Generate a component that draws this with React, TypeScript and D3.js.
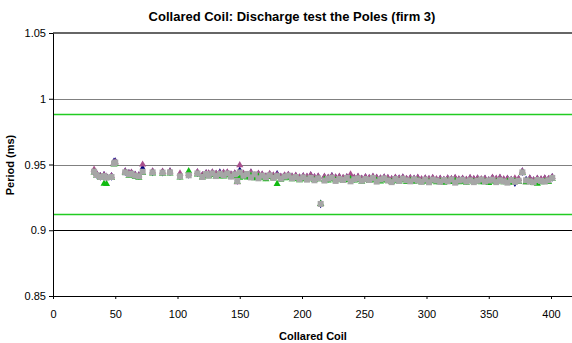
import React, { useEffect, useRef } from 'react';
import * as d3 from 'd3';

// coil numbers (x) and the period of each pole (ms)
const coils = [
  33, 35, 38, 41, 43, 47, 49, 50, 58, 61, 63, 66, 69, 72,
  80, 88, 94, 102, 109, 116, 120, 123, 125, 128, 131, 134, 137, 140, 143, 146, 148, 150, 153, 156, 159, 162, 165, 168, 171, 174, 177, 180, 183, 186, 189, 192, 195, 198,
  201, 204, 207, 210, 213, 215, 218, 221, 224, 227, 230, 233, 236, 239, 242, 245, 248, 251, 254, 257, 260, 263, 266, 269, 272, 275, 278, 281, 284, 287, 290, 293, 296, 299,
  302, 305, 308, 311, 314, 317, 320, 323, 326, 329, 332, 335, 338, 341, 344, 347, 350, 353, 356, 359, 362, 365, 368, 371, 374, 377, 380, 383, 386, 389, 392, 395, 398, 401,
];

const pole1 = [
  0.9448, 0.9425, 0.941, 0.9418, 0.9405, 0.941, 0.952, 0.9522, 0.9445, 0.9432, 0.9435, 0.942, 0.9415, 0.9468,
  0.9444, 0.9442, 0.9445, 0.9415, 0.9424, 0.9438, 0.9415, 0.943, 0.9428, 0.9436, 0.9425, 0.9438, 0.9432, 0.9435, 0.942, 0.9428, 0.938, 0.9452, 0.9426, 0.9418, 0.9436, 0.9412, 0.9425, 0.942, 0.9405, 0.9422, 0.9412, 0.9425, 0.9402, 0.9412, 0.9418, 0.9405, 0.941, 0.9398,
  0.9408, 0.9402, 0.9415, 0.94, 0.9405, 0.92, 0.9402, 0.9395, 0.941, 0.9398, 0.9402, 0.9392, 0.94, 0.9408, 0.9395, 0.9402, 0.9388, 0.94, 0.9392, 0.9402, 0.9395, 0.939, 0.9398, 0.9392, 0.9385, 0.9395, 0.939, 0.9398, 0.9385, 0.9392, 0.9388, 0.9395, 0.9382, 0.939,
  0.9385, 0.9392, 0.9382, 0.9388, 0.938, 0.939, 0.9385, 0.9392, 0.9382, 0.9388, 0.938, 0.9392, 0.9385, 0.939, 0.9382, 0.9388, 0.9378, 0.9395, 0.9385, 0.9395, 0.9382, 0.9388, 0.938, 0.9362, 0.9385, 0.9445, 0.9382, 0.939, 0.9378, 0.9388, 0.9382, 0.939, 0.9385, 0.9402,
];

const pole2 = [
  0.9462, 0.943, 0.9412, 0.942, 0.9408, 0.9412, 0.9512, 0.9518, 0.9448, 0.9435, 0.9438, 0.9422, 0.9418, 0.95,
  0.9448, 0.9445, 0.9448, 0.9432, 0.943, 0.9442, 0.942, 0.9435, 0.9432, 0.944, 0.943, 0.9435, 0.9438, 0.944, 0.9425, 0.9432, 0.9365, 0.9495, 0.943, 0.9422, 0.944, 0.9418, 0.943, 0.9425, 0.941, 0.9428, 0.9418, 0.9422, 0.9408, 0.9418, 0.9422, 0.941, 0.9415, 0.9402,
  0.9412, 0.9408, 0.942, 0.9405, 0.941, 0.92, 0.9408, 0.94, 0.9412, 0.9402, 0.9408, 0.9398, 0.9405, 0.9425, 0.94, 0.9408, 0.9392, 0.9405, 0.9398, 0.9408, 0.94, 0.9395, 0.9402, 0.9398, 0.939, 0.94, 0.9395, 0.9402, 0.939, 0.9398, 0.9392, 0.94, 0.9388, 0.9395,
  0.939, 0.9398, 0.9388, 0.9392, 0.9385, 0.9395, 0.939, 0.9398, 0.9388, 0.9392, 0.9385, 0.9398, 0.939, 0.9395, 0.9388, 0.9392, 0.9382, 0.94, 0.9392, 0.94, 0.9388, 0.9392, 0.9385, 0.9395, 0.939, 0.9448, 0.9365, 0.9395, 0.9382, 0.9392, 0.9388, 0.9395, 0.939, 0.9405,
];

const pole3 = [
  0.944, 0.9415, 0.94, 0.9355, 0.9352, 0.9398, 0.95, 0.9505, 0.9435, 0.9415, 0.942, 0.9405, 0.94, 0.9435,
  0.9432, 0.943, 0.9432, 0.9402, 0.945, 0.9425, 0.9402, 0.9415, 0.9412, 0.942, 0.9408, 0.9412, 0.941, 0.9418, 0.9405, 0.9412, 0.937, 0.94, 0.941, 0.9402, 0.9415, 0.9395, 0.9408, 0.94, 0.9388, 0.9405, 0.9395, 0.9352, 0.9385, 0.9395, 0.94, 0.9388, 0.9392, 0.938,
  0.939, 0.9385, 0.9395, 0.9382, 0.9388, 0.92, 0.9385, 0.9378, 0.9388, 0.938, 0.9385, 0.9375, 0.9382, 0.9388, 0.9378, 0.9385, 0.937, 0.9382, 0.9375, 0.9385, 0.9378, 0.9372, 0.938, 0.9375, 0.9368, 0.9378, 0.9372, 0.938, 0.9368, 0.9375, 0.937, 0.9378, 0.9365, 0.9372,
  0.9368, 0.9375, 0.9365, 0.937, 0.9362, 0.9372, 0.9368, 0.9375, 0.9365, 0.937, 0.9362, 0.9375, 0.9368, 0.9372, 0.9365, 0.937, 0.936, 0.9372, 0.9368, 0.9375, 0.9365, 0.937, 0.9362, 0.9372, 0.9368, 0.9435, 0.9365, 0.9372, 0.936, 0.9355, 0.9365, 0.9372, 0.9368, 0.939,
];

const pole4 = [
  0.9445, 0.942, 0.9405, 0.9412, 0.94, 0.9405, 0.9508, 0.9515, 0.944, 0.9425, 0.943, 0.9415, 0.941, 0.9445,
  0.944, 0.9438, 0.944, 0.941, 0.9418, 0.9432, 0.9405, 0.9428, 0.9415, 0.9432, 0.9412, 0.9428, 0.9418, 0.9432, 0.9408, 0.9425, 0.9375, 0.944, 0.9415, 0.9428, 0.9402, 0.9425, 0.9395, 0.9415, 0.9402, 0.9418, 0.9398, 0.9412, 0.9392, 0.9408, 0.9415, 0.9395, 0.9405, 0.9388,
  0.9402, 0.9385, 0.9398, 0.938, 0.9395, 0.92, 0.9378, 0.9392, 0.94, 0.9375, 0.939, 0.9382, 0.9398, 0.9372, 0.9388, 0.9395, 0.9376, 0.939, 0.9382, 0.9398, 0.937, 0.9386, 0.9394, 0.9378, 0.9366, 0.939, 0.9375, 0.9392, 0.938, 0.9372, 0.9388, 0.9378, 0.9368, 0.9385,
  0.9365, 0.9385, 0.9378, 0.9368, 0.9382, 0.9372, 0.9386, 0.9362, 0.9378, 0.9384, 0.937, 0.938, 0.9366, 0.9376, 0.9386, 0.937, 0.9378, 0.9384, 0.9366, 0.938, 0.9372, 0.9362, 0.9382, 0.9368, 0.9376, 0.944, 0.938, 0.9372, 0.9365, 0.9382, 0.9375, 0.937, 0.938, 0.9398,
];

// tolerance band
const limits = [0.988, 0.912];

const xTicks = [0, 50, 100, 150, 200, 250, 300, 350, 400];
const yTicks = [0.85, 0.9, 0.95, 1, 1.05];

const App = () => {
  const ref = useRef<SVGSVGElement>(null);

  useEffect(() => {
    const width = 572;
    const height = 343;
    const left = 53;
    const right = 572;
    const top = 33;
    const bottom = 296;
    const font = 'Liberation Sans, Arial, sans-serif';

    const svg = d3.select(ref.current);
    svg.selectAll('*').remove();
    svg.attr('width', width).attr('height', height);

    const x = d3.scaleLinear().domain([0, 400]).range([left, 551]);
    const y = d3.scaleLinear().domain([0.85, 1.05]).range([bottom, top]);

    // Title
    svg.append('text')
      .attr('x', 292)
      .attr('y', 21)
      .attr('text-anchor', 'middle')
      .style('font', `bold 13px ${font}`)
      .text('Collared Coil: Discharge test the Poles (firm 3)');

    // Gridlines
    svg.selectAll('.grid')
      .data([0.9, 0.95, 1])
      .enter().append('line')
      .attr('x1', left)
      .attr('x2', right)
      .attr('y1', d => Math.round(y(d)) + 0.5)
      .attr('y2', d => Math.round(y(d)) + 0.5)
      .attr('stroke', d => (d === 0.9 ? '#000' : '#808080'))
      .attr('stroke-width', 1.2);

    // Limit lines
    svg.selectAll('.limit')
      .data(limits)
      .enter().append('line')
      .attr('x1', left)
      .attr('x2', right)
      .attr('y1', d => y(d))
      .attr('y2', d => y(d))
      .attr('stroke', '#22cc22')
      .attr('stroke-width', 1.5);

    // Top border
    svg.append('line')
      .attr('x1', left).attr('x2', right)
      .attr('y1', top).attr('y2', top)
      .attr('stroke', '#333').attr('stroke-width', 1.5);

    // Axes
    const xAxis = svg.append('g')
      .attr('transform', `translate(0,${bottom})`)
      .call(d3.axisBottom(x).tickValues(xTicks).tickSize(3).tickSizeOuter(0).tickFormat(d3.format('d')));
    xAxis.select('.domain').attr('d', `M${left},0.5H${right}`).attr('stroke', '#000');
    xAxis.selectAll('text').style('font', `11px ${font}`).attr('y', 6).attr('dy', '16px');

    const yAxis = svg.append('g')
      .attr('transform', `translate(${left},0)`)
      .call(d3.axisLeft(y).tickValues(yTicks).tickSize(4).tickSizeOuter(0).tickFormat(d => String(+d)));
    yAxis.select('.domain').attr('stroke', '#000');
    yAxis.selectAll('text').style('font', `11px ${font}`).attr('x', -7);

    // Axis titles
    svg.append('text')
      .attr('x', 313)
      .attr('y', 340)
      .attr('text-anchor', 'middle')
      .style('font', `bold 11px ${font}`)
      .text('Collared Coil');

    svg.append('text')
      .attr('transform', 'translate(14,165) rotate(-90)')
      .attr('text-anchor', 'middle')
      .style('font', `bold 11px ${font}`)
      .text('Period (ms)');

    const pts = (vals: number[]) => coils.map((c, i) => [c, vals[i]]);
    const sym = (type: d3.SymbolType, size: number) => d3.symbol().type(type).size(size)();

    // Pole 1: navy diamonds
    svg.append('g').selectAll('path')
      .data(pts(pole1))
      .enter().append('path')
      .attr('transform', d => `translate(${x(d[0])},${y(d[1])})`)
      .attr('d', sym(d3.symbolDiamond, 22))
      .attr('fill', '#000080');

    // Pole 2: magenta triangles
    svg.append('g').selectAll('path')
      .data(pts(pole2))
      .enter().append('path')
      .attr('transform', d => `translate(${x(d[0])},${y(d[1])})`)
      .attr('d', sym(d3.symbolTriangle, 22))
      .attr('fill', '#a8508c');

    // Pole 3: green triangles
    svg.append('g').selectAll('path')
      .data(pts(pole3))
      .enter().append('path')
      .attr('transform', d => `translate(${x(d[0])},${y(d[1])})`)
      .attr('d', sym(d3.symbolTriangle, 22))
      .attr('fill', '#11bb11');

    // Pole 4: grey squares
    svg.append('g').selectAll('rect')
      .data(pts(pole4))
      .enter().append('rect')
      .attr('x', d => x(d[0]) - 3)
      .attr('y', d => y(d[1]) - 3)
      .attr('width', 6)
      .attr('height', 6)
      .attr('fill', '#a6a6a6');
  }, []);

  return <svg ref={ref} style={{ position: 'absolute', left: 0, top: 0, background: '#fff' }} />;
};

export default App;
